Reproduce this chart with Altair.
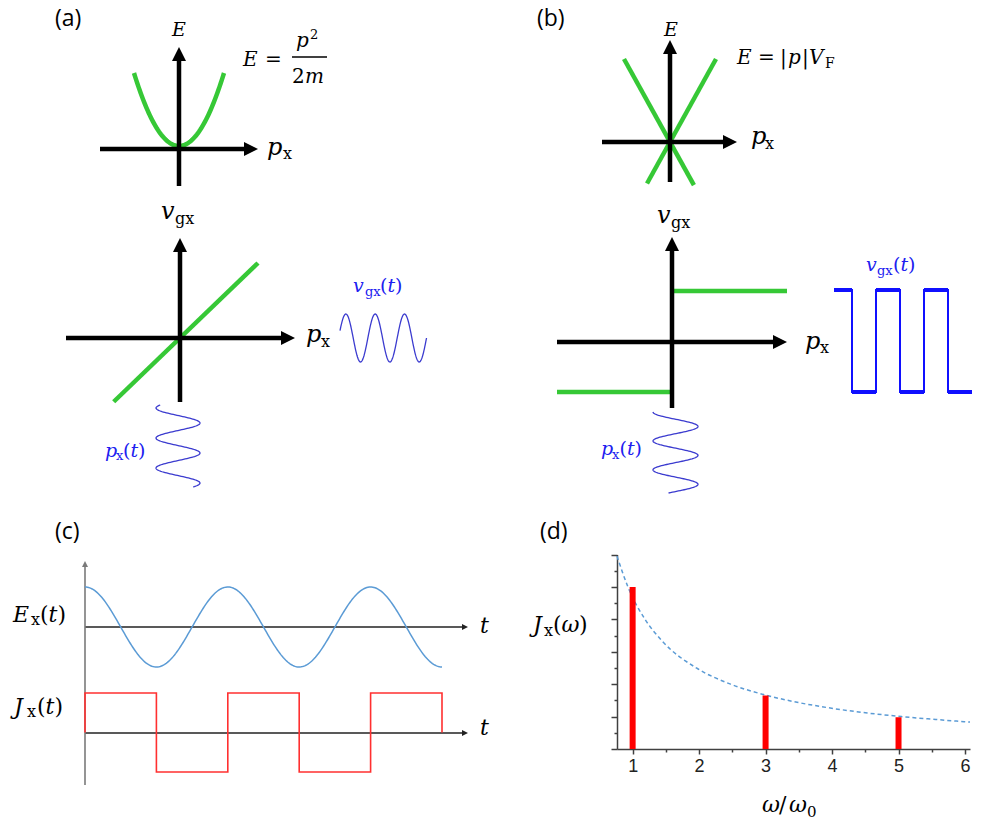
import numpy as np
import pandas as pd
import altair as alt

W, H = 984, 824

# ---------------- data ----------------
# panel (d): spectral components
d_omega = [1, 3, 5]
d_jx = [5.0, 1.65, 0.98]
env_omega = [0.84, 1.0, 1.25, 1.5, 2.0, 2.5, 3.0, 3.5, 4.0, 4.5, 5.0, 5.5, 6.0]
env_jx = [5.95, 5.0, 4.0, 3.33, 2.5, 2.0, 1.67, 1.43, 1.25, 1.11, 1.0, 0.91, 0.83]
d_xticks = [1, 1.5, 2, 2.5, 3, 3.5, 4, 4.5, 5, 5.5, 6]
d_yticks = [0, 0.5, 1, 1.5, 2, 2.5, 3, 3.5, 4, 4.5, 5, 5.5, 6]

# panel (c): current square wave (time in periods, level)
jx_t = [0, 0, 0.5, 0.5, 1, 1, 1.5, 1.5, 2, 2, 2.5, 2.5]
jx_v = [0, 1, 1, -1, -1, 1, 1, -1, -1, 1, 1, 0]

# panel (b): group velocity square wave (half periods, level)
vb_t = [-0.75, 0, 0, 1, 1, 2, 2, 3, 3, 4, 4, 5]
vb_v = [1, 1, -1, -1, 1, 1, -1, -1, 1, 1, -1, -1]
# panel (b): step v_gx(p)
step_p = [-1, 0, 0, 1]
step_v = [-1, -1, 1, 1]
step_g = ["a", "a", "b", "b"]
# panel (b): Dirac cone lines
cone_p = [-1, 0.52, 1, -0.5]
cone_e = [1, -0.52, 1, -0.5]
cone_g = ["a", "a", "b", "b"]

# ---------------- helpers ----------------
def S(dom, rng):
    return alt.Scale(domain=dom, range=rng, nice=False, zero=False)

CX = S([0, W], [0, W])
CY = S([0, H], [0, H])

def pos(xf, yf, xs=CX, ys=CY):
    return dict(x=alt.X(f"{xf}:Q", scale=xs, axis=None),
                y=alt.Y(f"{yf}:Q", scale=ys, axis=None))

layers = []

def curve(df, xf, yf, xs, ys, **mk):
    layers.append(alt.Chart(df).mark_line(**mk).encode(**pos(xf, yf, xs, ys), order="i:Q",
                                                       detail="g:N"))

GREEN = "#36C836"
THINBLUE = "#3B3BCF"
SQBLUE = "#1010FF"
LBLUE = "#2020F0"
EXBLUE = "#5B9BD5"
RED = "#FF3030"

# ---- axes (thick black) ----
ax_thick = pd.DataFrame(
    [(100, 149, 246, 149), (179, 186, 179, 60),
     (66, 338, 283, 338), (180, 402, 180, 251),
     (602, 142, 725, 142), (670, 182, 670, 53),
     (557, 342, 775, 342), (672, 408, 672, 250)],
    columns=["x1", "y1", "x2", "y2"])

# ---- green curves ----
p = np.linspace(-1, 1, 81)
par = pd.DataFrame({"p": p, "e": p ** 2, "i": np.arange(len(p)), "g": "a"})
curve(par, "p", "e", S([-1, 1], [134, 224]), S([0, 1], [146, 73]),
      color=GREEN, strokeWidth=4.5, strokeCap="butt")

lin = pd.DataFrame({"p": [-0.85, 1.0], "v": [-0.85, 1.0], "i": [0, 1], "g": "a"})
curve(lin, "p", "v", S([-1, 1], [102, 258]), S([-1, 1], [413, 263]),
      color=GREEN, strokeWidth=4.5, strokeCap="butt")

cone = pd.DataFrame({"p": cone_p, "e": cone_e, "i": [0, 1, 0, 1], "g": cone_g})
curve(cone, "p", "e", S([-1, 1], [624, 716]), S([-1, 1], [225, 59]),
      color=GREEN, strokeWidth=4.5, strokeCap="butt")

step = pd.DataFrame({"p": step_p, "v": step_v, "i": [0, 1, 0, 1], "g": step_g})
curve(step, "p", "v", S([-1, 1], [557, 787]), S([-1, 1], [392, 291]),
      color=GREEN, strokeWidth=4.5, strokeCap="butt")

# black axes on top of green
layers.append(alt.Chart(ax_thick).mark_rule(color="black", strokeWidth=4.5, strokeCap="butt").encode(
    **pos("x1", "y1"), x2="x2:Q", y2="y2:Q"))

arr_r = pd.DataFrame({"x": [258, 295, 737, 787], "y": [149, 338, 142, 342]})
arr_u = pd.DataFrame({"x": [179, 180, 670, 672], "y": [47, 238, 40, 237]})
PATH_R = "M0,0L-2,-1L-2,1Z"
PATH_U = "M0,0L-1,2L1,2Z"
layers.append(alt.Chart(arr_r).mark_point(shape=PATH_R, size=196, filled=True, color="black",
                                          opacity=1, strokeWidth=0).encode(**pos("x", "y")))
layers.append(alt.Chart(arr_u).mark_point(shape=PATH_U, size=196, filled=True, color="black",
                                          opacity=1, strokeWidth=0).encode(**pos("x", "y")))

# ---- blue oscillations in (a) and (b) ----
t = np.linspace(0, 2.95, 200)
vs = pd.DataFrame({"t": t, "v": np.cos(2 * np.pi * (t - 0.2)), "i": np.arange(len(t)), "g": "a"})
curve(vs, "t", "v", S([0, 3], [340, 428]), S([-1, 1], [362, 314]), color=THINBLUE, strokeWidth=1.3)

t2 = np.linspace(0, 2.73, 200)
pa = pd.DataFrame({"t": t2, "p": np.cos(2 * np.pi * (t2 - 0.6)), "i": np.arange(len(t2)), "g": "a"})
curve(pa, "p", "t", S([-1, 1], [156, 200]), S([0, 2.73], [405, 487]), color=THINBLUE, strokeWidth=1.3)

t3 = np.linspace(0, 2.8, 200)
pb = pd.DataFrame({"t": t3, "p": np.cos(2 * np.pi * (t3 - 0.5)), "i": np.arange(len(t3)), "g": "a"})
curve(pb, "p", "t", S([-1, 1], [653, 698]), S([0, 2.8], [412, 493]), color=THINBLUE, strokeWidth=1.3)

sq = pd.DataFrame({"t": vb_t, "v": vb_v, "i": np.arange(len(vb_t)), "g": "a"})
SQX, SQY = S([0, 5], [852, 972]), S([-1, 1], [392, 290])
curve(sq, "t", "v", SQX, SQY, color=SQBLUE, strokeWidth=2)
sqh = pd.DataFrame({"t1": vb_t[0::2], "t2": vb_t[1::2], "v": vb_v[0::2]})
layers.append(alt.Chart(sqh).mark_rule(color=SQBLUE, strokeWidth=4, strokeCap="butt").encode(
    x=alt.X("t1:Q", scale=SQX, axis=None), x2="t2:Q", y=alt.Y("v:Q", scale=SQY, axis=None)))

# ---- panel (c) ----
ax_c = pd.DataFrame([(85, 627, 463, 627), (85, 733, 463, 733)], columns=["x1", "y1", "x2", "y2"])
layers.append(alt.Chart(ax_c).mark_rule(color="#222222", strokeWidth=1.4).encode(
    **pos("x1", "y1"), x2="x2:Q", y2="y2:Q"))
ax_cv = pd.DataFrame([(85, 785, 85, 567)], columns=["x1", "y1", "x2", "y2"])
layers.append(alt.Chart(ax_cv).mark_rule(color="#7A7A7A", strokeWidth=1.6).encode(
    **pos("x1", "y1"), x2="x2:Q", y2="y2:Q"))
layers.append(alt.Chart(pd.DataFrame({"x": [468, 468], "y": [627, 733]})).mark_point(
    shape=PATH_R, size=36, filled=True, color="#222222", opacity=1, strokeWidth=0).encode(**pos("x", "y")))
layers.append(alt.Chart(pd.DataFrame({"x": [85], "y": [561]})).mark_point(
    shape=PATH_U, size=36, filled=True, color="#7A7A7A", opacity=1, strokeWidth=0).encode(**pos("x", "y")))

tc = np.linspace(0, 2.5, 300)
ex = pd.DataFrame({"t": tc, "e": np.cos(2 * np.pi * tc), "i": np.arange(len(tc)), "g": "a"})
curve(ex, "t", "e", S([0, 2.5], [85, 442]), S([-1, 1], [667, 587]), color=EXBLUE, strokeWidth=1.5)
jx = pd.DataFrame({"t": jx_t, "j": jx_v, "i": np.arange(len(jx_t)), "g": "a"})
curve(jx, "t", "j", S([0, 2.5], [85, 442]), S([-1, 1], [772, 693]), color=RED, strokeWidth=1.6)

# ---- fraction bar ----
layers.append(alt.Chart(pd.DataFrame([(292, 57, 327, 57)], columns=["x1", "y1", "x2", "y2"])).mark_rule(
    color="black", strokeWidth=1.3).encode(**pos("x1", "y1"), x2="x2:Q", y2="y2:Q"))

# ---- panel (d) ----
DX = S([0.84, 6], [617, 970])
DY = S([0, 6], [749, 554.5])
env = pd.DataFrame({"w": env_omega, "j": env_jx})
layers.append(alt.Chart(env).mark_line(color=EXBLUE, strokeWidth=1.5, strokeDash=[4, 3],
                                       interpolate="monotone").encode(
    x=alt.X("w:Q", scale=DX, axis=None), y=alt.Y("j:Q", scale=DY, axis=None)))
bars = pd.DataFrame({"w": d_omega, "j": d_jx})
xaxis = alt.Axis(orient="bottom", offset=-75, values=d_xticks,
                 labelExpr="datum.value % 1 === 0 ? format(datum.value, 'd') : ''",
                 tickSize={"condition": {"test": "datum.value % 1 === 0", "value": 5}, "value": 3},
                 labelFont="Liberation Sans", labelFontSize=18, labelColor="#222222", labelPadding=3,
                 domainColor="#404040", domainWidth=1.5, tickColor="#404040", tickWidth=1.5,
                 grid=False, title=None, labelFlush=False, labelOverlap=False)
yaxis = alt.Axis(orient="left", offset=-617, values=d_yticks, labels=False,
                 tickSize={"condition": {"test": "datum.value % 1 === 0", "value": 6}, "value": 3},
                 domainColor="#404040", domainWidth=1.5, tickColor="#404040", tickWidth=1.5,
                 grid=False, title=None)
layers.append(alt.Chart(bars).mark_bar(size=6, color="#FF0000").encode(
    x=alt.X("w:Q", scale=DX, axis=xaxis), y=alt.Y("j:Q", scale=DY, axis=yaxis), y2=alt.datum(0)))

# ---------------- text ----------------
K, B = "black", LBLUE
sans = pd.DataFrame([("(a)", 55, 26, 23, K), ("(b)", 537, 26, 23, K),
                     ("(c)", 55, 539, 23, K), ("(d)", 540, 539, 23, K)],
                    columns=["t", "x", "y", "s", "c"])
ital = pd.DataFrame([
    ("E", 172, 36, 19, K), ("E", 243, 66, 20, K), ("p", 296, 47, 20, K), ("m", 305, 83, 20, K),
    ("p", 267, 155, 24, K), ("v", 161, 219, 24, K), ("p", 306, 342, 24, K),
    ("E", 664, 36, 19, K), ("E", 737, 64, 20, K), ("p", 788, 64, 20, K), ("V", 809, 64, 20, K),
    ("p", 751, 144, 24, K), ("v", 657, 223, 24, K), ("p", 805, 349, 24, K),
    ("E", 13, 622, 22, K), ("t", 48.6, 622, 22, K), ("J", 14, 714, 22, K), ("t", 45.6, 714, 22, K),
    ("t", 480, 633, 22, K), ("t", 480, 735, 22, K),
    ("J", 533, 632, 22, K), ("ω", 561.6, 632, 22, K), ("ω", 762, 812, 22, K), ("ω", 789, 812, 22, K),
    ("v", 353, 292, 19, B), ("t", 387.4, 292, 19, B), ("p", 105, 457, 19, B), ("t", 130.5, 457, 19, B),
    ("v", 866, 271, 19, B), ("t", 900.4, 271, 19, B), ("p", 601, 455, 19, B), ("t", 627, 455, 19, B),
], columns=["t", "x", "y", "s", "c"])
upr = pd.DataFrame([
    ("=", 265, 66, 20, K), ("2", 310, 39, 13, K), ("2", 292, 83, 20, K), ("x", 283, 159, 16, K),
    ("gx", 175, 224, 16, K), ("x", 321, 347, 16, K), ("=", 758, 64, 20, K), ("|", 780, 64, 20, K),
    ("|", 802, 64, 20, K), ("F", 825, 68, 14, K), ("x", 765, 149, 16, K), ("gx", 671, 228, 16, K),
    ("x", 820, 353, 16, K), ("x", 31, 625, 16, K), ("(", 40, 622, 22, K), (")", 57.4, 622, 22, K),
    ("x", 27, 717, 16, K), ("(", 37, 714, 22, K), (")", 54.4, 714, 22, K), ("x", 544, 636, 16, K),
    ("(", 553, 632, 22, K), (")", 579, 632, 22, K), ("/", 779, 812, 22, K), ("0", 807, 817, 15, K),
    ("gx", 365, 296, 13, B), ("(", 380, 292, 19, B), (")", 395, 292, 19, B),
    ("x", 116, 460, 13, B), ("(", 123, 457, 19, B), (")", 138, 457, 19, B),
    ("gx", 877, 275, 13, B), ("(", 893, 271, 19, B), (")", 908, 271, 19, B),
    ("x", 612, 459, 13, B), ("(", 619.5, 455, 19, B), (")", 634.6, 455, 19, B),
], columns=["t", "x", "y", "s", "c"])

def text_layer(df, font, style):
    return alt.Chart(df).mark_text(align="left", baseline="alphabetic", font=font, fontStyle=style).encode(
        **pos("x", "y"), text="t:N", size=alt.Size("s:Q", scale=None), color=alt.Color("c:N", scale=None))

layers.append(text_layer(sans, "Open Sans", "normal"))
layers.append(text_layer(ital, "DejaVu Serif", "italic"))
layers.append(text_layer(upr, "DejaVu Serif", "normal"))

chart = alt.layer(*layers).resolve_scale(x="independent", y="independent").properties(
    width=W, height=H, padding=0, autosize=alt.AutoSizeParams(type="none"), background="white"
).configure_view(stroke=None)

chart.save("out.html", embed_options={"renderer": "svg", "actions": False})
